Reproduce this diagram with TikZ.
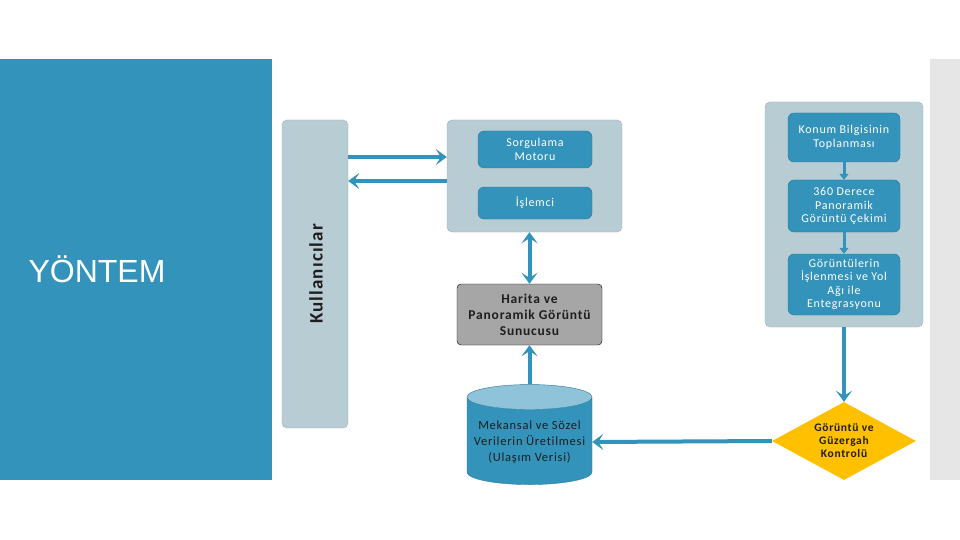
\documentclass[tikz,border=0pt]{standalone}
\usepackage{fontspec}
\setmainfont{Carlito}[LetterSpace=6, Ligatures=CommonOff]
\newfontfamily\titlefont{Liberation Sans}
\usetikzlibrary{shapes.geometric,arrows.meta,positioning}
\definecolor{yblue}{HTML}{3493BA}
\definecolor{ybluedark}{HTML}{2A7896}
\definecolor{ygray}{HTML}{B8CCD4}
\definecolor{ygrayline}{HTML}{9DB2BB}
\definecolor{ystrip}{HTML}{E6E6E6}
\definecolor{yserver}{HTML}{A6A6A6}
\definecolor{ytop}{HTML}{8EC3DA}
\definecolor{yyellow}{HTML}{FFC000}
\definecolor{ytext}{HTML}{1E1E1E}
\tikzset{
  grp/.style={rectangle, draw=ygrayline, fill=ygray, rounded corners=5pt},
  box/.style={rectangle, draw=ybluedark, fill=yblue, rounded corners=6pt, text=white,
              align=center, inner sep=1pt, font=\fontsize{12}{13.5}\selectfont},
  srv/.style={rectangle, draw=black, fill=yserver, rounded corners=4pt, text=ytext,
              align=center, inner sep=1pt, font=\bfseries\fontsize{13.5}{16}\selectfont},
  db/.style={cylinder, shape border rotate=90, aspect=0.22, draw=ybluedark,
             cylinder uses custom fill, cylinder body fill=yblue, cylinder end fill=ytop,
             align=center, text=ytext, inner sep=1pt, font=\fontsize{12.5}{16}\selectfont},
  dec/.style={diamond, aspect=1.85, fill=yyellow, align=center, inner sep=0pt, text=ytext,
              font=\bfseries\fontsize{11.5}{13}\selectfont},
  arr/.style={-{Stealth[length=11pt, width=16pt, inset=5pt]}, line width=4pt, draw=yblue},
  darr/.style={{Stealth[length=11pt, width=16pt, inset=5pt]}-{Stealth[length=11pt, width=16pt, inset=5pt]},
               line width=4pt, draw=yblue},
  sarr/.style={-{Triangle[length=6pt, width=9pt]}, line width=3pt, draw=yblue}
}
\begin{document}
\begin{tikzpicture}[x=1pt, y=-1pt]
  \useasboundingbox (0,0) rectangle (960,540);
  \fill[white] (0,0) rectangle (960,540);
  \fill[yblue] (0,59) rectangle (272,480);
  \fill[ystrip] (930,59) rectangle (960,480);
  \node[anchor=west, text=white, font=\titlefont\fontsize{32}{38}\selectfont] (title) at (25,269) {YÖNTEM};

  % kullanicilar
  \node[grp, minimum width=66pt, minimum height=308pt] (users) at (315,274) {};
  \node[rotate=90, text=ytext, font=\bfseries\fontsize{19}{22}\selectfont] (userslbl) at (316,274) {Kullanıcılar};

  % sorgu tarafi
  \node[grp, minimum width=175pt, minimum height=112pt] (qgrp) at (534.5,176) {};
  \node[box, minimum width=114pt, minimum height=37pt] (sm) at (535,149.5) {Sorgulama\\Motoru};
  \node[box, minimum width=114pt, minimum height=32pt] (isl) at (535,203) {İşlemci};
  \node[srv, minimum width=145pt, minimum height=61pt] (harita) at (529.5,314.5) {Harita ve\\Panoramik Görüntü\\Sunucusu};
  \node[db, minimum width=125pt, minimum height=100pt] (veri) at (529.5,442) {Mekansal ve Sözel\\Verilerin Üretilmesi\\(Ulaşım Verisi)};

  % saha tarafi
  \node[grp, minimum width=158pt, minimum height=225pt] (fgrp) at (844,214.5) {};
  \node[box, minimum width=112pt, minimum height=49pt] (konum) at (844,137.5) {Konum Bilgisinin\\Toplanması};
  \node[box, minimum width=112pt, minimum height=52pt] (pano) at (844,206) {360 Derece\\Panoramik\\Görüntü Çekimi};
  \node[box, minimum width=112pt, minimum height=61pt] (isle) at (844,284.5) {Görüntülerin\\İşlenmesi ve Yol\\Ağı ile\\Entegrasyonu};
  \node[dec, minimum width=144pt, minimum height=78pt] (kontrol) at (844,441) {Görüntü ve\\Güzergah\\Kontrolü};

  \draw[arr] (users.east |- 0,157) -- (qgrp.west |- 0,157);
  \draw[arr] (qgrp.west |- 0,181) -- (users.east |- 0,181);
  \draw[darr] (harita.north |- qgrp.south) -- (harita.north);
  \draw[arr] (veri.top) -- (harita.south);
  \draw[sarr] (konum) -- (pano);
  \draw[sarr] (pano) -- (isle);
  \draw[arr] (fgrp.south) -- (kontrol.north);
  \draw[arr] (kontrol.west) -- (veri.east);
\end{tikzpicture}
\end{document}
